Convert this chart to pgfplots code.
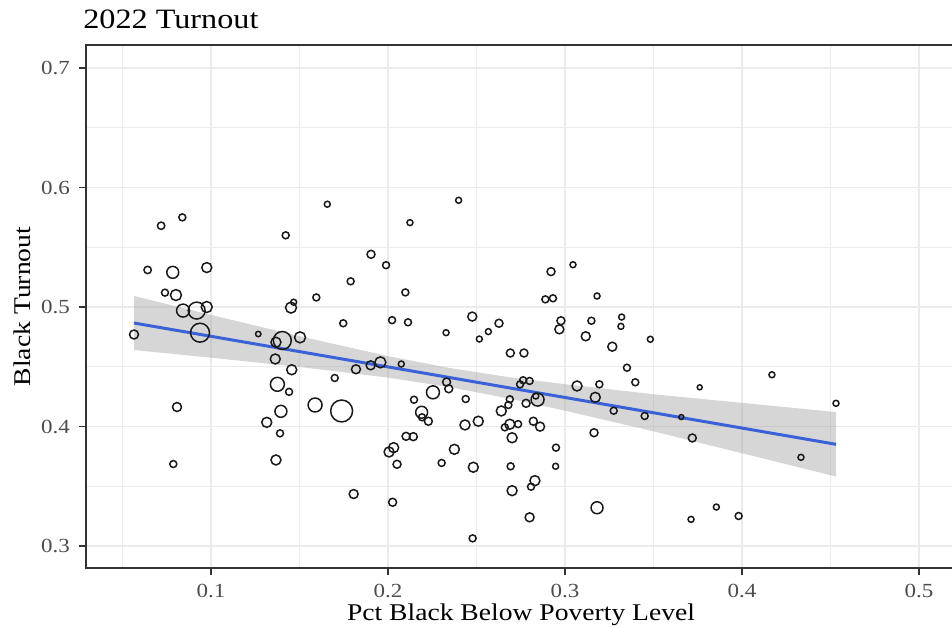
\documentclass[border=0pt]{standalone}
\usepackage{pgfplots}
\pgfplotsset{compat=1.18}
\usepackage{pgfplotstable}
\usepackage{fontspec}
\setmainfont{Liberation Serif}[FakeStretch=1.15]
\definecolor{gridgray}{HTML}{EBEBEB}
\definecolor{framegray}{HTML}{333333}
\definecolor{tickgray}{HTML}{4D4D4D}
\definecolor{fitblue}{HTML}{3A62D6}
\definecolor{bandgray}{HTML}{999999}

\pgfplotstableread{
x y r
0.0718 0.568 1.85
0.0838 0.575 1.75
0.0642 0.531 1.85
0.0784 0.529 3.0
0.0976 0.533 2.5
0.0740 0.512 1.75
0.0802 0.510 2.75
0.0842 0.497 3.25
0.0919 0.497 4.25
0.0976 0.500 2.75
0.0938 0.4785 4.75
0.0565 0.477 2.25
0.0808 0.4163 2.25
0.0787 0.3686 1.75
0.1422 0.560 1.75
0.1467 0.504 1.5
0.1452 0.4995 2.75
0.1595 0.508 1.75
0.1267 0.4774 1.35
0.1403 0.472 4.5
0.1367 0.4705 2.5
0.1503 0.4746 2.75
0.1363 0.4565 2.5
0.1456 0.4475 2.5
0.1375 0.4353 3.5
0.1441 0.429 1.75
0.1588 0.418 3.5
0.1395 0.4127 3.0
0.1315 0.4035 2.5
0.1390 0.3943 1.75
0.1367 0.372 2.5
0.1657 0.586 1.5
0.2399 0.5893 1.5
0.2124 0.5706 1.5
0.1904 0.5441 2.0
0.1989 0.535 1.75
0.1789 0.5215 1.75
0.2098 0.5122 1.75
0.1747 0.4864 1.75
0.2023 0.489 1.75
0.2113 0.4872 1.75
0.2476 0.492 2.25
0.2627 0.4864 2.0
0.2567 0.4794 1.5
0.2516 0.4732 1.5
0.2328 0.4785 1.5
0.2691 0.4615 2.0
0.2768 0.4615 2.0
0.1819 0.4479 2.25
0.1902 0.4512 2.25
0.1957 0.4537 2.75
0.2075 0.4523 1.5
0.1699 0.4406 1.75
0.1738 0.413 5.5
0.2331 0.4372 2.0
0.2343 0.4316 2.0
0.2254 0.4286 3.25
0.2147 0.4224 1.75
0.2439 0.423 1.75
0.2190 0.4119 3.0
0.2192 0.4077 1.75
0.2228 0.4044 2.0
0.2435 0.4013 2.5
0.2510 0.4044 2.5
0.2763 0.4387 1.75
0.2800 0.4381 1.75
0.2746 0.4353 1.75
0.2845 0.4225 3.25
0.2835 0.4255 1.5
0.2688 0.4228 1.75
0.2680 0.418 1.75
0.2780 0.4194 2.0
0.2640 0.413 2.5
0.2688 0.4019 2.5
0.2660 0.3993 1.75
0.2735 0.402 1.75
0.2821 0.4044 2.0
0.2859 0.3999 2.25
0.2701 0.3906 2.5
0.2102 0.3918 2.0
0.2143 0.3915 2.0
0.2032 0.3823 2.5
0.2006 0.3787 2.5
0.2051 0.3684 2.0
0.2375 0.3809 2.5
0.2303 0.3695 1.75
0.2482 0.3659 2.5
0.2693 0.3667 1.75
0.2701 0.3463 2.5
0.2808 0.3496 1.75
0.2830 0.3547 2.5
0.2800 0.324 2.25
0.1806 0.3435 2.25
0.2026 0.3366 2.0
0.2478 0.3064 1.75
0.3045 0.5354 1.5
0.2921 0.5296 2.0
0.2889 0.5064 1.75
0.2932 0.5073 1.75
0.3181 0.5092 1.5
0.2977 0.4885 2.0
0.2968 0.4813 2.25
0.3149 0.4885 1.75
0.3320 0.4916 1.5
0.3316 0.4838 1.5
0.3482 0.4730 1.5
0.3117 0.4755 2.25
0.3267 0.4668 2.25
0.3350 0.4492 1.75
0.3397 0.437 1.75
0.3761 0.4328 1.25
0.3068 0.4339 2.5
0.3194 0.4353 1.75
0.3171 0.4244 2.5
0.3275 0.4132 1.75
0.3450 0.4088 1.75
0.3657 0.4079 1.25
0.3719 0.3904 2.0
0.3164 0.3948 2.0
0.2949 0.3823 1.75
0.2947 0.3667 1.5
0.3181 0.332 3.0
0.3712 0.3223 1.5
0.3855 0.3326 1.5
0.3981 0.3251 1.75
0.4169 0.4433 1.5
0.4531 0.4194 1.5
0.4333 0.3742 1.5
}\points

\begin{document}
\begin{tikzpicture}
\begin{axis}[
  at={(0,0)}, anchor=south west,
  scale only axis,
  width=435bp, height=261.5bp,
  xmin=0.02938, xmax=0.52090,
  ymin=0.28159, ymax=0.71925,
  xtick={0.1,0.2,0.3,0.4,0.5},
  ytick={0.3,0.4,0.5,0.6,0.7},
  minor xtick={0.05,0.15,0.25,0.35,0.45},
  minor ytick={0.35,0.45,0.55,0.65},
  xtick pos=bottom, ytick pos=left,
  tick align=outside,
  major tick length=3.5bp, minor tick length=0pt,
  grid=both,
  major grid style={draw=gridgray, line width=0.75bp},
  minor grid style={draw=gridgray, line width=0.4bp},
  axis line style={draw=framegray, line width=0.65bp},
  every tick/.style={draw=framegray, line width=0.7bp},
  /pgf/number format/.cd, fixed, fixed zerofill, precision=1, assume math mode=true,
  /pgfplots/.cd,
  tick label style={font=\fontsize{10bp}{12bp}\selectfont, text=tickgray},
  xticklabel style={yshift=-1bp},
  yticklabel style={xshift=-1bp},
  title={2022 Turnout},
  title style={at={(axis description cs:-0.00345,1.0325)}, anchor=base west,
    yshift=-6pt, font=\fontsize{14bp}{16bp}\selectfont, inner sep=0pt},
  xlabel={Pct Black Below Poverty Level},
  xlabel style={at={(axis description cs:0.5,-0.1013)}, anchor=base,
    font=\fontsize{12bp}{14bp}\selectfont, inner sep=0pt},
  ylabel={Black Turnout},
  ylabel style={at={(axis description cs:-0.0736,0.5)}, anchor=center,
    font=\fontsize{12bp}{14bp}\selectfont, inner sep=0pt},
]
\addplot[scatter, only marks, mark=o,
  scatter/use mapped color={draw=black!90, fill=none},
  mark options={line width=0.75bp},
  visualization depends on={\thisrow{r} \as \rr},
  scatter/@pre marker code/.append style={/tikz/mark size=\rr pt}]
  table[x=x, y=y] {\points};
\addplot[fill=bandgray, fill opacity=0.4, draw=none] coordinates {
  (0.0565,0.5092) (0.1,0.4934) (0.15,0.4756) (0.2,0.4589) (0.235,0.4489)
  (0.27,0.4409) (0.3,0.4354) (0.35,0.4270) (0.4,0.4198) (0.4531,0.4121)
  (0.4531,0.3581) (0.4,0.3776) (0.35,0.3960) (0.3,0.4132) (0.27,0.4229)
  (0.235,0.4329) (0.2,0.4409) (0.15,0.4498) (0.1,0.4576) (0.0565,0.4640)
} -- cycle;
\addplot[fitblue, line width=1.5bp] coordinates {(0.0565,0.4866) (0.4531,0.3851)};
\end{axis}
\pgfresetboundingbox
\useasboundingbox (-43bp,-30bp) rectangle (433bp,284bp);
\end{tikzpicture}
\end{document}
